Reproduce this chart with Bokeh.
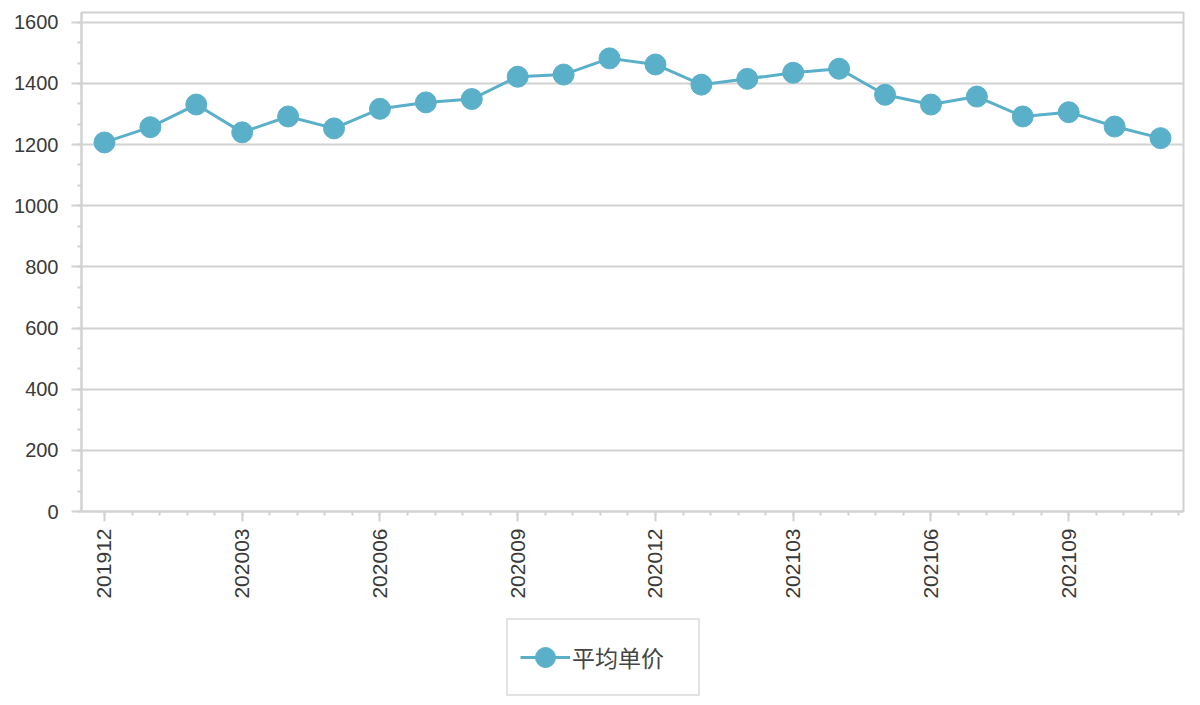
import numpy as np
from bokeh.plotting import figure
from bokeh.layouts import column
from bokeh.models import FixedTicker, SingleIntervalTicker, Range1d, Legend, LegendItem
from bokeh.embed import file_html
from bokeh.resources import INLINE

# ---- data ----
months = ["201912", "202001", "202002", "202003", "202004", "202005",
          "202006", "202007", "202008", "202009", "202010", "202011",
          "202012", "202101", "202102", "202103", "202104", "202105",
          "202106", "202107", "202108", "202109", "202110", "202111"]
avg_price = [1207, 1257, 1331, 1240, 1292, 1253, 1317, 1338, 1349, 1422, 1429, 1482,
             1462, 1396, 1415, 1435, 1448, 1363, 1331, 1357, 1292, 1306, 1259, 1221]
series_name = "平均单价"

x = list(range(len(months)))
label_every = 3

FONT = "Liberation Sans"
TXT = "#3a3a3a"
GRID = "#d2d2d2"
COLOR = "#5bb0c9"

p = figure(width=1192, height=610, output_backend="svg", toolbar_location=None,
           x_range=Range1d(-0.5, len(months) - 0.5), y_range=Range1d(0, 1632),
           min_border_left=81, min_border_right=9, min_border_top=12, min_border_bottom=99)

line = p.line(x, avg_price, line_color=COLOR, line_width=3)
pts = p.scatter(x, avg_price, size=21, fill_color=COLOR, line_color=COLOR)

# axes
major_x = x[::label_every]
p.xaxis.ticker = FixedTicker(ticks=major_x,
                             minor_ticks=list(np.arange(0, len(months) - 0.5, label_every / 5)))
p.xaxis.major_label_overrides = {i: months[i] for i in major_x}
p.xaxis.major_label_orientation = np.pi / 2
p.yaxis.ticker = SingleIntervalTicker(interval=200, num_minor_ticks=3)

for ax in (p.xaxis[0], p.yaxis[0]):
    ax.axis_line_color = GRID
    ax.axis_line_width = 2
    ax.major_tick_line_color = GRID
    ax.minor_tick_line_color = GRID
    ax.major_tick_line_width = 2
    ax.minor_tick_line_width = 2
    ax.major_tick_in = 0
    ax.minor_tick_in = 0
    ax.major_tick_out = 10
    ax.minor_tick_out = 4
    ax.major_label_text_font = FONT
    ax.major_label_text_font_size = "20px"
    ax.major_label_text_color = TXT
p.yaxis.major_label_standoff = 13
p.xaxis.major_label_standoff = 7
p.xaxis.major_label_text_font_size = "21px"

p.xgrid.visible = False
p.ygrid.grid_line_color = GRID
p.ygrid.grid_line_width = 2
p.outline_line_color = GRID
p.outline_line_width = 2

# legend strip below the chart (same styling as the series; sample glyphs sit off-range)
lg = figure(width=1192, height=90, output_backend="svg", toolbar_location=None,
            x_range=Range1d(0, 1), y_range=Range1d(0, 1),
            x_axis_location=None, y_axis_location=None,
            min_border_left=0, min_border_right=0, min_border_top=0, min_border_bottom=0)
lg.outline_line_color = None
lg.xgrid.visible = False
lg.ygrid.visible = False
lg_line = lg.line([-5, -4], [-5, -4], line_color=COLOR, line_width=3)
lg_pts = lg.scatter([-5], [-5], size=21, fill_color=COLOR, line_color=COLOR)
legend = Legend(items=[LegendItem(label=series_name, renderers=[lg_line, lg_pts])],
                location=(425, 4), orientation="horizontal",
                label_text_font="Noto Sans CJK SC", label_text_font_size="23px",
                label_text_color="#454545", padding=12, spacing=0, label_standoff=2,
                glyph_width=50, glyph_height=50, label_width=114,
                border_line_color="#c8c8c8", border_line_width=2, margin=0)
lg.add_layout(legend, "center")

layout = column(p, lg, spacing=0)
open("out.html", "w").write(file_html(layout, INLINE))
